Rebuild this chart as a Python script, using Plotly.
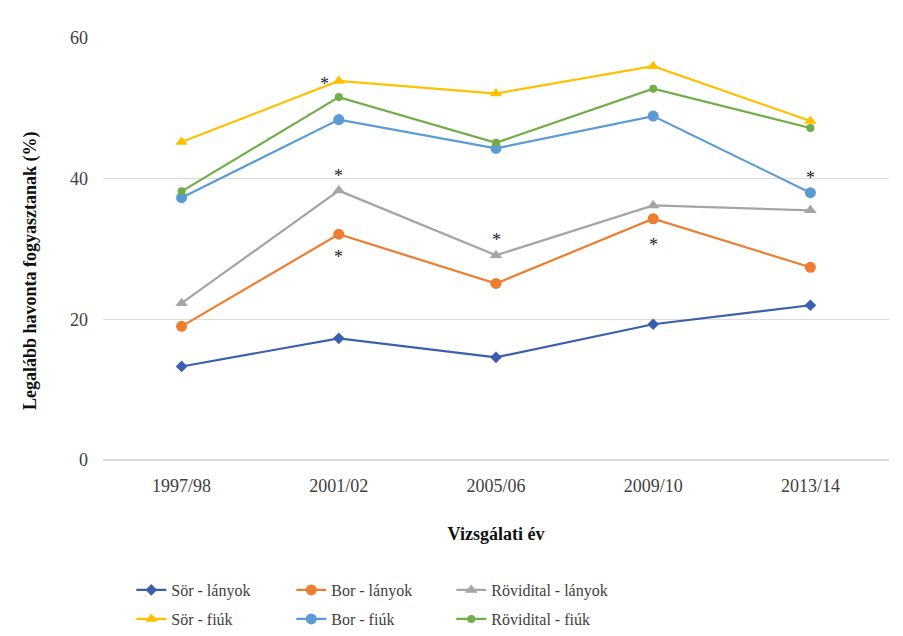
import plotly.graph_objects as go

# survey years
years = ["1997/98", "2001/02", "2005/06", "2009/10", "2013/14"]

# monthly consumption (%)
sor_lanyok = [13.3, 17.3, 14.6, 19.3, 22.0]
bor_lanyok = [19.0, 32.1, 25.1, 34.3, 27.4]
rov_lanyok = [22.3, 38.3, 29.1, 36.2, 35.5]
sor_fiuk = [45.2, 53.9, 52.1, 56.0, 48.2]
bor_fiuk = [37.3, 48.4, 44.3, 48.9, 38.0]
rov_fiuk = [38.2, 51.6, 45.1, 52.8, 47.2]

# significance asterisks (year, value, horizontal nudge in px)
ast_x = ["2001/02", "2001/02", "2001/02", "2005/06", "2009/10", "2013/14"]
ast_y = [54.0, 41.0, 29.4, 31.8, 31.2, 40.7]
ast_dx = [-14, 0, 0, 0, 0, 0]

serif = "Liberation Serif"

series = [
    ("Sör - lányok", sor_lanyok, "#3B5FAE", "diamond", 9, "legend"),
    ("Bor - lányok", bor_lanyok, "#ED7D31", "circle", 11, "legend"),
    ("Rövidital - lányok", rov_lanyok, "#A5A5A5", "triangle-up", 11, "legend"),
    ("Sör - fiúk", sor_fiuk, "#FFC000", "triangle-up", 11, "legend2"),
    ("Bor - fiúk", bor_fiuk, "#5B9BD5", "circle", 11, "legend2"),
    ("Rövidital - fiúk", rov_fiuk, "#70AD47", "circle", 8, "legend2"),
]

fig = go.Figure()
for name, vals, col, sym, sz, leg in series:
    fig.add_trace(go.Scatter(x=years, y=vals, name=name, mode="lines+markers",
                             line=dict(color=col, width=2.2),
                             marker=dict(color=col, symbol=sym, size=sz),
                             legend=leg))

for xx, yy, dx in zip(ast_x, ast_y, ast_dx):
    fig.add_annotation(x=xx, y=yy, text="*", showarrow=False, xshift=dx, yshift=-4,
                       font=dict(family=serif, size=18, color="#222222"))

# y title placed by hand (sits a bit below the plot centre in the original)
fig.add_annotation(xref="paper", yref="paper", x=-0.093, y=0.45, textangle=-90,
                   xanchor="center", yanchor="middle",
                   text="<b>Legalább havonta fogyasztanak (%)</b>", showarrow=False,
                   font=dict(family=serif, size=18, color="#111111"))

# page body adds an 8px offset, so margins are shifted to compensate
leg_font = dict(family=serif, size=16, color="#404040")
fig.update_layout(
    width=903, height=636,
    margin=dict(l=95, r=22, t=30, b=184, autoexpand=False),
    paper_bgcolor="white", plot_bgcolor="white",
    font=dict(family=serif, size=18, color="#404040"),
    showlegend=True,
    legend=dict(orientation="h", x=0.036, y=1 - 582 / 636, yref="container",
                xanchor="left", yanchor="middle", entrywidth=115, font=leg_font),
    legend2=dict(orientation="h", x=0.036, y=1 - 611 / 636, yref="container",
                 xanchor="left", yanchor="middle", entrywidth=115, font=leg_font),
)
fig.update_xaxes(type="category", range=[-0.5, 4.5], automargin=False,
                 showgrid=False, showline=False, ticks="", ticklabelstandoff=13,
                 tickfont=dict(family=serif, size=18, color="#404040"),
                 title=dict(text="<b>Vizsgálati év</b>", standoff=32,
                            font=dict(family=serif, size=18, color="#111111")))
fig.update_yaxes(range=[0, 60], dtick=20, automargin=False,
                 showgrid=True, gridcolor="#DCDCDC", gridwidth=1,
                 zeroline=True, zerolinecolor="#DCDCDC", showline=False,
                 tickfont=dict(family=serif, size=18, color="#404040"), ticklabelstandoff=14)

fig.write_html("out.html")
